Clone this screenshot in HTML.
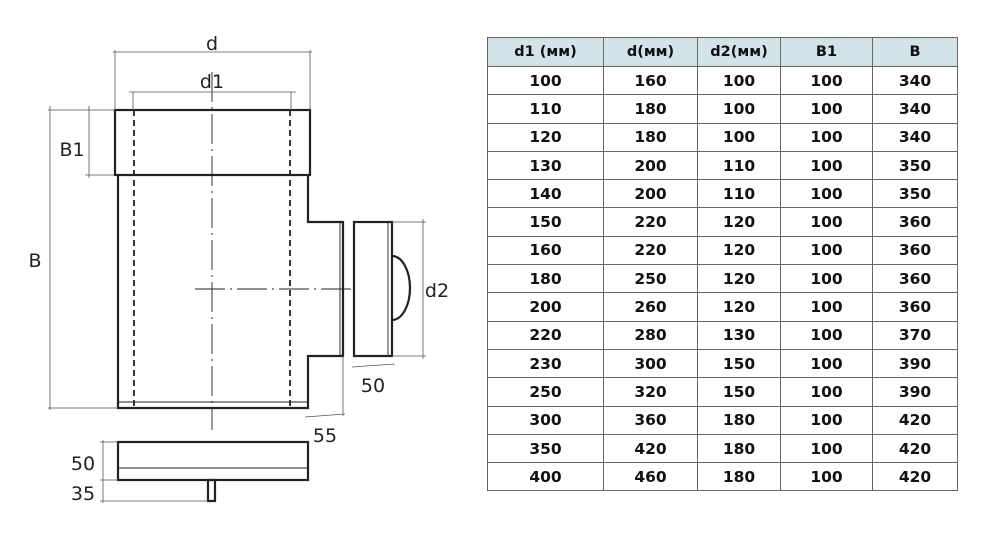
<!DOCTYPE html>
<html><head><meta charset="utf-8"><style>
body{margin:0;background:#fff;width:1000px;height:537px;overflow:hidden;position:relative;font-family:"Liberation Sans",sans-serif}
svg{position:absolute;left:0;top:0}
table{position:absolute;left:487px;top:37px;border-collapse:collapse;font-family:"DejaVu Sans","Liberation Sans",sans-serif;font-weight:bold;font-size:15.5px;color:#111}
td{border:1px solid #666;text-align:center;height:27.3px;padding:0}
tr:first-child td{background:#d2e3ea;height:28px;font-size:14.5px}
</style></head><body>
<svg width="480" height="537" viewBox="0 0 480 537">
<g fill="none" stroke="#222">
<g stroke-width="2.2">
<rect x="115" y="110" width="195" height="65"/>
<path d="M118 175 V408 H308 V356 H343 V222 H308 V175"/>
<rect x="354" y="222" width="38" height="134"/>
<rect x="118" y="442" width="190" height="38"/>
<rect x="208" y="480" width="7" height="21"/>
<path d="M392 256 A18 32 0 0 1 392 320"/>
</g>
<g stroke-width="1.8" stroke-dasharray="6,4">
<line x1="134" y1="110" x2="134" y2="408"/><line x1="290" y1="110" x2="290" y2="408"/>
</g>
<g stroke-width="0.9">
<line x1="340" y1="222" x2="340" y2="356"/><line x1="388" y1="222" x2="388" y2="356"/>
<line x1="118" y1="402" x2="308" y2="402"/><line x1="118" y1="468" x2="308" y2="468"/>
<line x1="212" y1="72" x2="212" y2="430" stroke-dasharray="30,5,2,5"/>
<line x1="195" y1="289" x2="354" y2="289" stroke-dasharray="30,5,2,5"/>
</g>
<g stroke-width="0.8" stroke="#555">
<line x1="113" y1="52" x2="312" y2="52"/><line x1="115" y1="50" x2="115" y2="110"/><line x1="310" y1="50" x2="310" y2="110"/>
<line x1="129" y1="92" x2="296" y2="92"/><line x1="133" y1="92" x2="133" y2="110"/><line x1="291" y1="92" x2="291" y2="110"/>
<line x1="50" y1="106" x2="50" y2="410"/><line x1="48" y1="110" x2="115" y2="110"/><line x1="48" y1="408" x2="118" y2="408"/>
<line x1="89" y1="106" x2="89" y2="178"/><line x1="85" y1="175" x2="115" y2="175"/>
<line x1="423" y1="219" x2="423" y2="359"/><line x1="392" y1="222" x2="426" y2="222"/><line x1="392" y1="356" x2="426" y2="356"/>
<line x1="352" y1="367" x2="395" y2="364"/>
<line x1="305" y1="417" x2="345" y2="414"/><line x1="343" y1="356" x2="343" y2="416"/>
<line x1="103" y1="440" x2="103" y2="503"/><line x1="100" y1="442" x2="118" y2="442"/><line x1="100" y1="480" x2="118" y2="480"/><line x1="100" y1="501" x2="208" y2="501"/>
</g>
</g>
<g font-family="DejaVu Sans,sans-serif" font-size="19" fill="#222" text-anchor="middle">
<text x="212" y="50">d</text><text x="212" y="88">d1</text>
<text x="35" y="267">B</text><text x="72" y="156">B1</text>
<text x="437" y="297">d2</text><text x="373" y="392">50</text>
<text x="325" y="442">55</text><text x="83" y="470">50</text><text x="83" y="500">35</text>
</g>
</svg>
<table>
<colgroup><col style="width:116px"><col style="width:94px"><col style="width:83px"><col style="width:92px"><col style="width:85px"></colgroup>
<tr><td>d1 (мм)</td><td>d(мм)</td><td>d2(мм)</td><td>B1</td><td>B</td></tr>
<tr><td>100</td><td>160</td><td>100</td><td>100</td><td>340</td></tr>
<tr><td>110</td><td>180</td><td>100</td><td>100</td><td>340</td></tr>
<tr><td>120</td><td>180</td><td>100</td><td>100</td><td>340</td></tr>
<tr><td>130</td><td>200</td><td>110</td><td>100</td><td>350</td></tr>
<tr><td>140</td><td>200</td><td>110</td><td>100</td><td>350</td></tr>
<tr><td>150</td><td>220</td><td>120</td><td>100</td><td>360</td></tr>
<tr><td>160</td><td>220</td><td>120</td><td>100</td><td>360</td></tr>
<tr><td>180</td><td>250</td><td>120</td><td>100</td><td>360</td></tr>
<tr><td>200</td><td>260</td><td>120</td><td>100</td><td>360</td></tr>
<tr><td>220</td><td>280</td><td>130</td><td>100</td><td>370</td></tr>
<tr><td>230</td><td>300</td><td>150</td><td>100</td><td>390</td></tr>
<tr><td>250</td><td>320</td><td>150</td><td>100</td><td>390</td></tr>
<tr><td>300</td><td>360</td><td>180</td><td>100</td><td>420</td></tr>
<tr><td>350</td><td>420</td><td>180</td><td>100</td><td>420</td></tr>
<tr><td>400</td><td>460</td><td>180</td><td>100</td><td>420</td></tr>
</table>
</body></html>
